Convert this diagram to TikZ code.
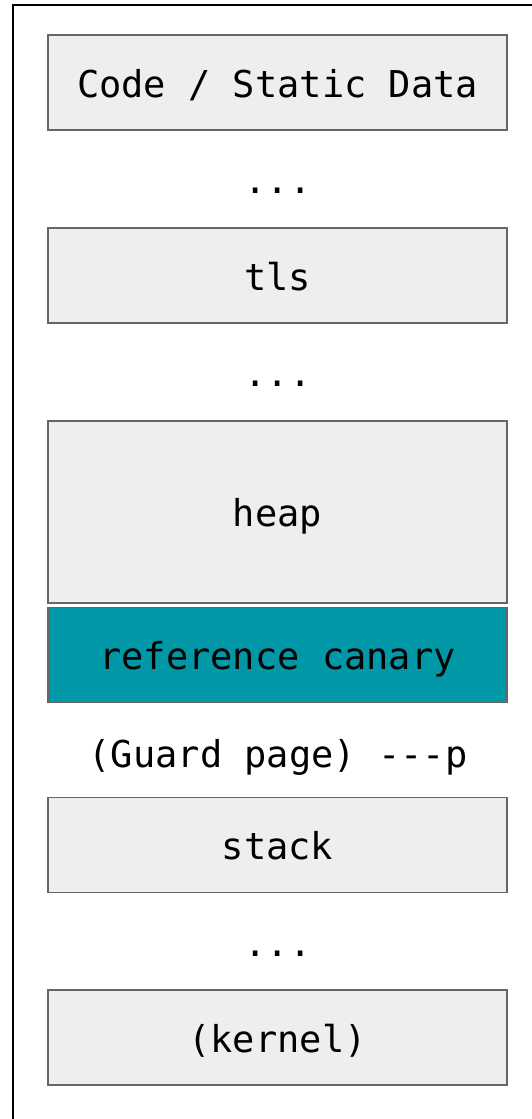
\documentclass[tikz,border=0pt]{standalone}
\usepackage{fontspec}
\setmonofont{DejaVu Sans Mono}
\definecolor{segfill}{HTML}{EEEEEE}
\definecolor{segline}{HTML}{666666}
\definecolor{canary}{HTML}{0097A7}
\tikzset{
  x=1pt, y=-1pt,
  label font/.style={font=\fontsize{37}{40}\selectfont\ttfamily},
  segment/.style={draw=segline, line width=1.5pt, fill=segfill, inner sep=0pt,
    minimum width=459pt, minimum height=95pt, text height=29pt, text depth=0pt,
    label font},
  gap/.style={inner sep=0pt, anchor=base, label font},
}
\begin{document}
\begin{tikzpicture}
\clip (0,0) rectangle (532,1119);
\fill[white] (0,0) rectangle (532,1119);
% frame around the address space
\draw[line width=1.6pt] (13,5) rectangle (545,1130);

\node[segment] (code) at (277.5,82.5) {Code / Static Data};
\node[gap] (dots1) at (278,193.5) {...};
\node[segment] (tls) at (277.5,275.5) {tls};
\node[gap] (dots2) at (278,386.5) {...};
\node[segment, minimum height=182pt] (heap) at (277.5,512) {heap};
\node[segment, fill=canary] (canary) at (277.5,655) {reference canary};
\node[gap] (guard) at (278,767) {(Guard page) ---p};
\node[segment] (stack) at (277.5,845) {stack};
\node[gap] (dots3) at (278,956) {...};
\node[segment] (kernel) at (277.5,1037.5) {(kernel)};
\end{tikzpicture}
\end{document}
